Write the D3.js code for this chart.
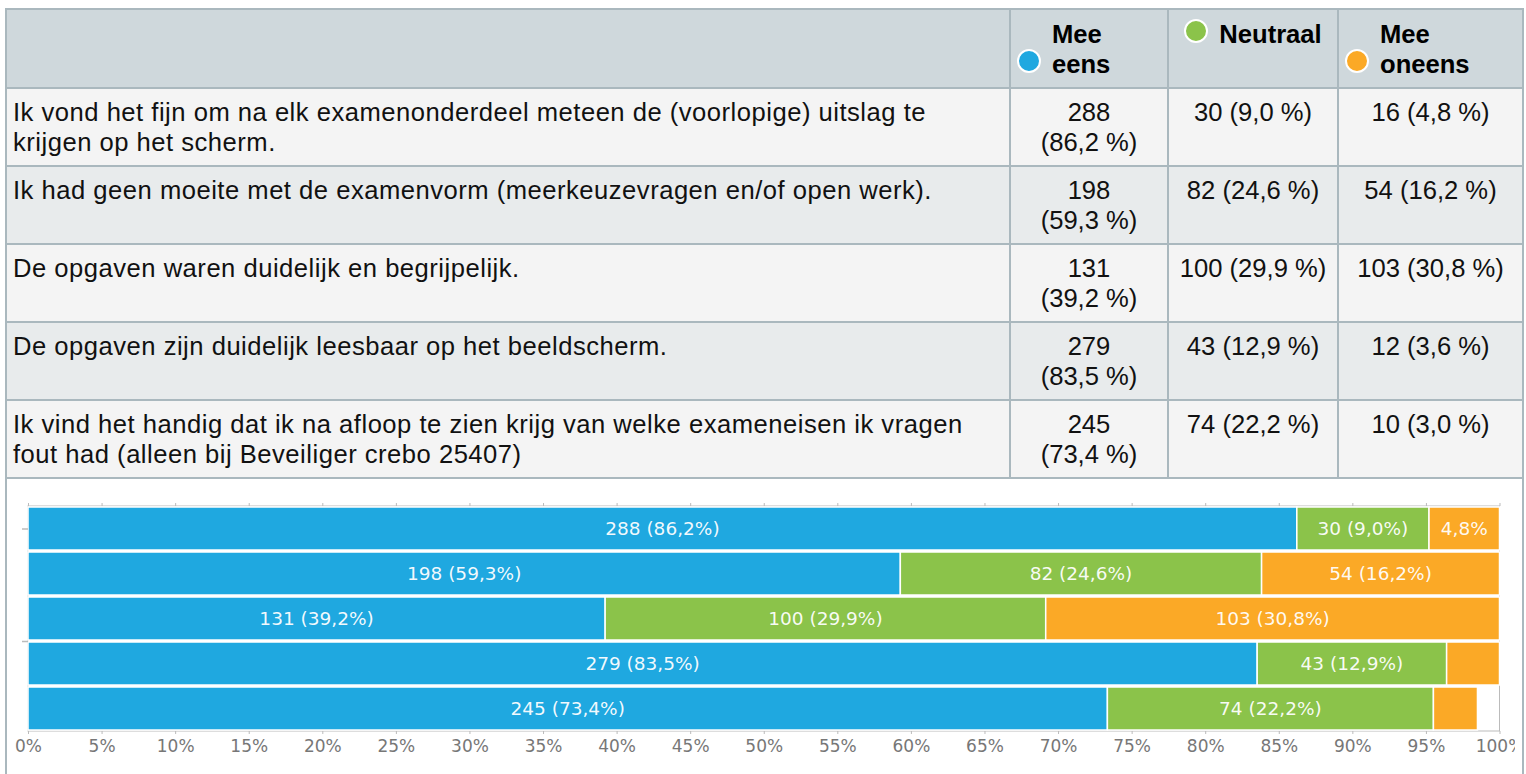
<!DOCTYPE html>
<html>
<head>
<meta charset="utf-8">
<script src="https://cdn.jsdelivr.net/npm/d3@7"></script>
<style>
  body { margin: 0; background: #fff; font-family: Arial, "Liberation Sans", sans-serif; }
  table { border-collapse: collapse; table-layout: fixed; width: 1517px; margin: 8px 0 0 5px;
          font-size: 25.6px; line-height: 30px; color: #111; }
  th, td { border: 2px solid #aab8be; padding: 8px 6px; vertical-align: top; }
  th { background: #cfd8dc; font-weight: bold; text-align: left; color: #000; padding-top: 9px; }
  th.single { text-align: center; }
  tr.odd td { background: #f4f4f4; }
  tr.even td { background: #e8ebec; }
  td.stmt { white-space: pre-line; letter-spacing: 0.5px; }
  td.num { text-align: center; }
  td.chart { background: #fff; padding: 0; height: 300px; }
  .dot { display: inline-block; width: 20px; height: 20px; border: 2px solid #fff; border-radius: 50%;
         vertical-align: baseline; margin-right: 11px; }
  .lbl { display: inline-block; }
  svg { display: block; }
  .axis text { fill: #777; font-family: "DejaVu Sans", sans-serif; font-size: 17px; }
  .axis path, .axis line { stroke: #bbb; }
</style>
</head>
<body>
<div id="wrap"></div>
<script>
// statements (rows), line breaks as in the source table
const statements = [
  "Ik vond het fijn om na elk examenonderdeel meteen de (voorlopige) uitslag te\nkrijgen op het scherm.",
  "Ik had geen moeite met de examenvorm (meerkeuzevragen en/of open werk).",
  "De opgaven waren duidelijk en begrijpelijk.",
  "De opgaven zijn duidelijk leesbaar op het beeldscherm.",
  "Ik vind het handig dat ik na afloop te zien krijg van welke exameneisen ik vragen\nfout had (alleen bij Beveiliger crebo 25407)"
];

// answer categories
const categories = ["Mee eens", "Neutraal", "Mee oneens"];
const headerLines = [["Mee", "eens"], ["Neutraal"], ["Mee", "oneens"]];
const colors = ["#1fa8e0", "#8bc34a", "#fba926"];

// counts and percentages per category (334 respondents)
const respondents = 334;
const meeEens = [288, 198, 131, 279, 245];
const meeEensPct = [86.2, 59.3, 39.2, 83.5, 73.4];
const neutraal = [30, 82, 100, 43, 74];
const neutraalPct = [9.0, 24.6, 29.9, 12.9, 22.2];
const meeOneens = [16, 54, 103, 12, 10];
const meeOneensPct = [4.8, 16.2, 30.8, 3.6, 3.0];

// axis ticks
const xTicks = [0, 5, 10, 15, 20, 25, 30, 35, 40, 45, 50, 55, 60, 65, 70, 75, 80, 85, 90, 95, 100];
const yTicks = [0.5, 3];

const counts = [meeEens, neutraal, meeOneens];
const pcts = [meeEensPct, neutraalPct, meeOneensPct];
const comma = v => d3.format(".1f")(v).replace(".", ",");

// + TABLE
const table = d3.select("#wrap").append("table");
table.append("colgroup").selectAll("col")
  .data([1004, 158, 170, 185])
  .join("col")
  .style("width", d => d + "px");

const head = table.append("thead").append("tr");
head.append("th");
head.selectAll("th.cat")
  .data(categories)
  .join("th")
  .attr("class", (d, i) => "cat " + (headerLines[i].length > 1 ? "multi" : "single"))
  .each(function(d, i) {
    const th = d3.select(this);
    th.append("span").attr("class", "dot").style("background", colors[i]);
    th.append("span").attr("class", "lbl").html(headerLines[i].join("<br>"));
  });

const body = table.append("tbody");
statements.forEach((s, r) => {
  const tr = body.append("tr").attr("class", r % 2 === 0 ? "odd" : "even");
  tr.append("td").attr("class", "stmt").text(s);
  categories.forEach((c, i) => {
    const td = tr.append("td").attr("class", "num");
    if (i === 0) {
      td.html(`${counts[i][r]}<br>(${comma(pcts[i][r])} %)`);
    } else {
      td.text(`${counts[i][r]} (${comma(pcts[i][r])} %)`);
    }
  });
});

const chartCell = body.append("tr").append("td")
  .attr("class", "chart")
  .attr("colspan", 4);

// + CHART
const width = 1508,
  height = 300,
  margin = { top: 27, bottom: 48, left: 21, right: 15.5 };

const svg = chartCell.append("svg")
  .attr("width", width)
  .attr("height", height);

const xScale = d3.scaleLinear()
  .domain([0, 100])
  .range([margin.left, width - margin.right]);

const yBand = d3.scaleBand()
  .domain(d3.range(statements.length))
  .range([margin.top, height - margin.bottom]);

const yLin = d3.scaleLinear()
  .domain([0, statements.length])
  .range([margin.top, height - margin.bottom]);

// plot frame
svg.append("rect")
  .attr("x", xScale(0))
  .attr("y", margin.top)
  .attr("width", xScale(100) - xScale(0))
  .attr("height", height - margin.bottom - margin.top)
  .attr("fill", "none")
  .attr("stroke", "#bbb");

// stacked data: bar lengths are shares of all respondents
const rows = statements.map((s, r) => {
  const o = { idx: r };
  categories.forEach((c, i) => { o[c] = counts[i][r] / respondents * 100; });
  return o;
});
const stacked = d3.stack().keys(categories)(rows);

const layers = svg.selectAll("g.layer")
  .data(stacked)
  .join("g")
  .attr("class", "layer")
  .attr("fill", (d, i) => colors[i]);

layers.selectAll("rect")
  .data(d => d)
  .join("rect")
  .attr("x", d => xScale(d[0]))
  .attr("y", (d, r) => yBand(r) + 1)
  .attr("width", d => xScale(d[1]) - xScale(d[0]))
  .attr("height", yBand.bandwidth() - 2)
  .attr("stroke", "#fff")
  .attr("stroke-width", 1.5);

// labels: full label, else percentage only, else nothing
layers.each(function(layer, i) {
  const g = d3.select(this);
  layer.forEach((d, r) => {
    const w = xScale(d[1]) - xScale(d[0]);
    const t = g.append("text")
      .attr("x", (xScale(d[0]) + xScale(d[1])) / 2)
      .attr("y", yBand(r) + yBand.bandwidth() / 2)
      .attr("dy", "0.36em")
      .attr("text-anchor", "middle")
      .attr("fill", "#fff")
      .attr("fill-opacity", 0.95)
      .style("font-family", "'DejaVu Sans', sans-serif")
      .style("font-size", "18.5px")
      .text(`${counts[i][r]} (${comma(pcts[i][r])}%)`);
    if (t.node().getComputedTextLength() + 10 > w) {
      t.text(`${comma(pcts[i][r])}%`);
      if (t.node().getComputedTextLength() + 10 > w) t.remove();
    }
  });
});

// axes
svg.append("g")
  .attr("class", "axis")
  .attr("transform", `translate(0,${height - margin.bottom})`)
  .call(d3.axisBottom(xScale).tickValues(xTicks).tickSize(3).tickPadding(6).tickFormat(d => d + "%"))
  .call(g => g.select(".domain").remove());

svg.append("g")
  .attr("class", "axis")
  .attr("transform", `translate(0,${margin.top})`)
  .call(d3.axisTop(xScale).tickValues(xTicks).tickSize(3).tickFormat(""))
  .call(g => g.select(".domain").remove());

svg.append("g")
  .attr("class", "axis")
  .attr("transform", `translate(${margin.left},0)`)
  .call(d3.axisLeft(yLin).tickValues(yTicks).tickSize(6).tickFormat(""))
  .call(g => g.select(".domain").remove())
  .selectAll("line").attr("stroke-width", 1.5);
</script>
</body>
</html>
